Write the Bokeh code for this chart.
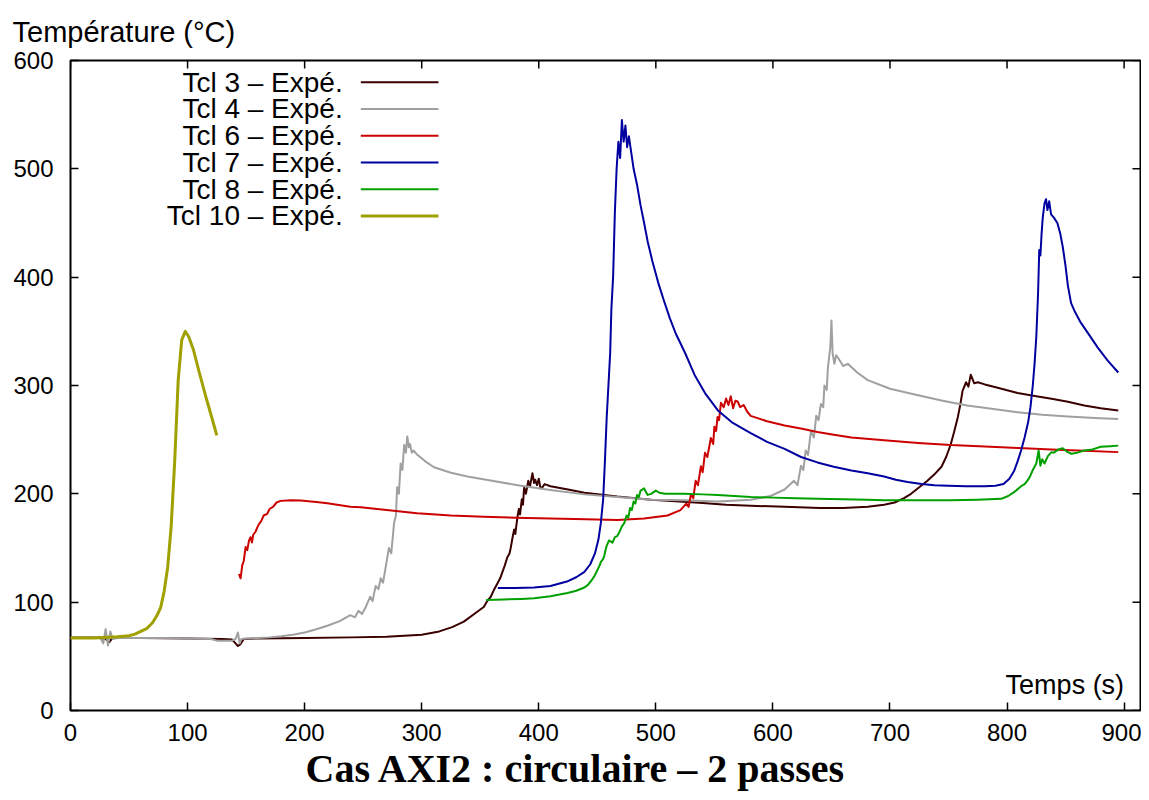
from bokeh.plotting import figure
from bokeh.models import Range1d, Label, FixedTicker, Title
from bokeh.embed import file_html
from bokeh.resources import INLINE
from bokeh.core.properties import value

# ---------------- data ----------------
x_ticks = [0, 100, 200, 300, 400, 500, 600, 700, 800, 900]
y_ticks = [0, 100, 200, 300, 400, 500, 600]

series_names = ["Tcl 3 – Expé.", "Tcl 4 – Expé.", "Tcl 6 – Expé.",
                "Tcl 7 – Expé.", "Tcl 8 – Expé.", "Tcl 10 – Expé."]

t_tcl3 = [0, 20, 30, 33, 36, 60, 100, 130, 138, 141, 143, 145, 148, 160, 200, 240, 270, 300, 315, 326,
          336, 346, 353, 356, 359, 362, 365, 367, 369, 371, 373, 375, 376, 378, 379, 380, 381, 382, 383,
          384, 385.5, 386.5, 387.5, 389, 391, 392.5, 394.6, 396, 397, 398.5, 400, 401.5, 403,
          405, 410, 425, 439, 467, 496, 520, 540, 560, 581, 610, 640, 660, 681, 695, 704, 712, 718, 725,
          732, 738, 744, 748, 752, 755, 758, 760, 762, 765, 767, 769, 772, 775, 781, 792, 809, 825, 838,
          852, 866, 880, 895]
T_tcl3 = [67.5, 67.5, 66, 63, 67, 67, 66.5, 66, 65.5, 62, 59.5, 61, 66, 66.5, 67, 67.5, 68, 70, 73, 77,
          82, 90, 95.5, 101, 105, 112, 118, 122, 128, 134, 141, 145, 150, 162, 167, 163, 172, 180, 186,
          181, 195, 190, 206, 200, 212, 207, 219, 210, 213, 208, 214, 205, 206,
          209, 207, 204, 201, 197.5, 194.6, 193, 191.5, 190, 189, 188, 187, 187, 188, 190, 192, 196, 200, 206,
          212, 218, 225, 234, 246, 258, 271, 282, 295, 303, 299, 310, 302, 303, 301, 298, 293, 290, 287.7,
          285, 281.5, 279, 277]

t_tcl4 = [0, 10, 20, 25, 28, 30, 32, 34, 36, 40, 60, 80, 100, 120, 125, 130, 138, 141, 143, 144.5, 146,
          150, 160, 170, 180, 190, 200, 210, 220, 230, 239, 243, 246, 249, 252, 254, 256, 258, 260.7, 263,
          265, 267, 269, 272, 274, 276.4, 278, 279, 280.5, 282, 283.5, 285, 286.5, 287.7, 289, 290, 291.5,
          293, 296.3, 303, 310.5, 325, 339, 360, 382, 410, 439, 467, 496, 525,
          553, 581, 598, 610, 618, 621, 624, 626, 628, 630, 632.5, 635, 637, 639, 641, 643, 644, 646, 647,
          649, 650, 651, 652.5, 654, 656, 660, 664, 672, 681, 700, 724, 745, 766, 790, 809, 830, 852, 875, 895]
T_tcl4 = [67.5, 67.5, 67.5, 68, 62, 75, 60, 73, 66, 67, 67, 67, 66.5, 66, 64.5, 64.5, 64.5, 66, 72, 62, 66,
          66.5, 67, 67.5, 68.5, 70, 72, 75, 78.5, 82.5, 88, 86, 92, 89, 95, 100, 105, 101, 115, 112,
          122, 118, 131, 150, 145, 173, 180, 206, 200, 228, 222, 245, 238, 253, 243, 246, 238,
          240, 236, 230, 224.5, 219.5, 216, 212, 208, 203.5, 199.5, 197, 194.6, 194,
          193, 194.5, 198, 204, 212, 208, 226, 222, 240, 236, 258, 252, 272, 268, 283, 280, 300, 296, 317,
          335, 360, 330, 320, 328, 325, 318, 320, 312, 305, 297, 291, 286, 281.5, 278, 275.4, 273, 271.4, 270, 269]

t_tcl6 = [143.9, 145.3, 146.7, 148, 149.6, 151, 152.5, 153.8, 155, 156, 158, 159.6, 161, 163, 165, 168,
          170, 173, 176, 179.5, 188, 196.6, 210,
          219.4, 239, 248, 270, 296, 325, 353, 380, 410, 440, 467, 490, 510, 521, 526, 528, 530, 532, 534,
          536, 538.5, 540, 542, 544, 547, 549, 550, 551.5, 552.7, 554, 555.6, 558, 560, 562, 564, 566, 568,
          570, 572, 575, 578, 581, 595, 610, 625, 638, 652, 667, 695,
          724, 752, 781, 810, 838, 866, 895]
T_tcl6 = [126, 122, 134, 138, 151, 148, 157, 160, 155, 162, 165, 169, 172, 175, 180, 181.5,
          186, 188, 192, 193.5, 194, 193.8, 192.5,
          191.4, 188.1, 187.7, 185, 182, 180, 178.9, 178, 177.3, 176.5, 175.8, 177.3, 180, 185, 191, 188, 199.5, 196, 212,
          208, 225.5, 220, 238, 234, 251.5, 246, 262, 258, 271, 268, 284, 280, 288, 282, 290, 279, 286,
          285, 280, 282, 276, 272, 267, 263, 260, 257, 254.5, 252, 249.5,
          247, 245, 243.7, 242.3, 241, 239.7, 238.5]

t_tcl7 = [365, 380, 396, 410, 424, 432, 439, 444, 448, 451, 453, 455, 456.5, 458, 459.5, 461, 462, 463.5,
          465, 466.5, 468, 469.5, 471, 472.5, 474, 475.5, 477, 479, 481, 484, 487, 490, 493, 497, 502,
          507, 512, 517, 525, 533, 542, 553, 565, 581, 595, 610, 624, 638, 652, 667, 681, 695, 705, 715,
          727, 738, 750, 765, 781, 790, 797, 802, 806, 809, 812, 815, 818, 820, 822, 823.5, 825, 826.5,
          827.5, 828.5, 829.5, 830.5, 832, 833.3, 834.5, 836, 837.6, 840, 843, 845.5, 847.6, 850, 852,
          854.7, 858, 863, 870, 877.5, 886, 895]
T_tcl7 = [113, 113, 113.5, 115, 119, 123, 128, 135, 145, 158, 173, 195, 230, 270, 300, 330, 370, 400,
          460, 500, 525, 510, 545, 525, 540, 520, 530, 515, 500, 485, 466, 450, 433, 415, 395,
          378, 362, 348, 330, 310, 293, 277, 266, 256, 248, 241.5, 234, 229, 225, 221.5, 219, 216, 213, 211,
          209, 208, 207.5, 207, 207, 207.5, 209, 214, 221, 230, 240, 252, 266, 280, 300, 320, 345, 385,
          425, 420, 440, 455, 468, 472, 462, 470, 458, 455, 450, 440, 428, 410, 392,
          376, 368, 358, 347, 335, 323, 312]

t_tcl8 = [355, 370, 385, 396, 410, 424.5, 432, 439, 442, 445, 447.5, 450, 452, 453, 455, 456, 457, 458, 460,
          463, 465, 467, 469, 471, 473, 475, 476.5, 478, 479.5, 481, 482.5, 484, 485.5, 487, 490, 493, 496,
          500, 503, 508, 515, 524, 540, 553, 567, 581, 600, 620, 638,
          660, 680, 695, 720, 752, 775, 795, 801, 806, 812, 815, 818, 820, 822, 825, 827, 828.5, 830, 832, 835,
          838, 840, 844, 847.6, 851, 855, 860, 866, 873, 880, 888, 895]
T_tcl8 = [102, 102.5, 103, 103.6, 105.5, 108.5, 110.5, 113.5, 116, 120, 124, 129.5, 134, 137, 140, 143, 148, 152, 157,
          155, 160, 161, 165, 170, 173, 180, 178, 187, 185, 193, 191, 199, 197, 203, 205, 199, 200,
          203, 201, 200, 200, 200, 199.5, 199, 198, 197, 196.5, 196, 195.4,
          195, 194.5, 194, 194, 194, 194.5, 195.4, 198, 201.5, 207, 209, 213, 217, 222, 228, 240, 226, 232, 228, 235,
          238.5, 238, 241, 242, 239, 237, 238, 240, 241, 243.5, 244, 244.5]

t_tcl10 = [0, 20, 40, 50, 55, 60, 65, 70, 74, 77, 80, 83, 86, 89, 92, 95, 98, 101, 105, 110, 115, 120, 125]
T_tcl10 = [67, 67, 68, 69, 70.5, 73, 75.5, 81, 88, 95, 110, 132, 170, 230, 305, 342, 350, 345, 333, 312,
           292, 273, 254]

series_t = [t_tcl3, t_tcl4, t_tcl6, t_tcl7, t_tcl8, t_tcl10]
series_T = [T_tcl3, T_tcl4, T_tcl6, T_tcl7, T_tcl8, T_tcl10]

# ---------------- styles ----------------
colors = ["#3a0000", "#a0a0a0", "#cc0000", "#0000a0", "#00a000", "#a0a000"]
widths = [2, 2, 2, 2, 2, 3]
SANS = "Liberation Sans"
SERIF = "Liberation Serif"
X_MAX, Y_MAX = 914, 600

p = figure(width=1141, height=792, output_backend="svg", toolbar_location=None,
           x_range=Range1d(0, X_MAX), y_range=Range1d(0, Y_MAX),
           min_border_left=70, min_border_right=1, min_border_top=60, min_border_bottom=82,
           background_fill_color="white", border_fill_color="white")
p.grid.visible = False
p.outline_line_color = "black"
p.outline_line_width = 2
p.outline_line_alpha = 1

p.xaxis.ticker = FixedTicker(ticks=x_ticks)
p.yaxis.ticker = FixedTicker(ticks=y_ticks)
for ax in (p.xaxis[0], p.yaxis[0]):
    ax.major_tick_in = 8
    ax.major_tick_out = 0
    ax.major_tick_line_width = 1.5
    ax.major_tick_line_color = "black"
    ax.minor_tick_line_color = None
    ax.axis_line_color = None
    ax.major_label_text_font = SANS
    ax.major_label_text_font_size = "24px"
    ax.major_label_text_color = "black"
p.xaxis.major_label_standoff = 13
p.yaxis.major_label_standoff = 17

# mirrored ticks on the top and right sides of the frame (gnuplot "mirror")
tick_len_y = 8 * Y_MAX / 650.0
tick_len_x = 8 * X_MAX / 1070.0
p.segment(x0=x_ticks, x1=x_ticks, y0=[Y_MAX] * len(x_ticks), y1=[Y_MAX - tick_len_y] * len(x_ticks),
          line_color="black", line_width=1.5)
p.segment(x0=[X_MAX] * len(y_ticks), x1=[X_MAX - tick_len_x] * len(y_ticks), y0=y_ticks, y1=y_ticks,
          line_color="black", line_width=1.5)

for t, T, c, w in zip(series_t, series_T, colors, widths):
    p.line(t, T, line_color=c, line_width=w, line_join="round")

# legend, gnuplot style (text right-aligned, sample on the right)
leg_text_x = 232.5
leg_x0, leg_x1 = 248, 314.3
leg_top, leg_step = 580, 24.7
leg_y = [leg_top - i * leg_step for i in range(len(series_names))]
p.text(x=[leg_text_x] * len(series_names), y=leg_y, text=series_names,
       text_align="right", text_baseline="middle", text_font=value(SANS),
       text_font_size="28px", text_color="black")
p.segment(x0=[leg_x0] * len(series_names), x1=[leg_x1] * len(series_names), y0=leg_y, y1=leg_y,
          line_color=colors, line_width=widths)

p.add_layout(Label(x=900, y=23.7, text="Temps (s)", text_font=SANS, text_font_size="27px",
                   text_align="right", text_baseline="alphabetic", text_color="black"))

p.add_layout(Title(text="Température (°C)", text_font=SANS, text_font_size="29px",
                   text_font_style="normal", text_color="black", align="left",
                   offset=-58, standoff=26), "above")
p.add_layout(Title(text="Cas AXI2 : circulaire – 2 passes", text_font=SERIF,
                   text_font_style="bold", text_font_size="40px", text_color="black",
                   align="left", offset=235, standoff=0), "below")

open("out.html", "w").write(file_html(p, INLINE))
